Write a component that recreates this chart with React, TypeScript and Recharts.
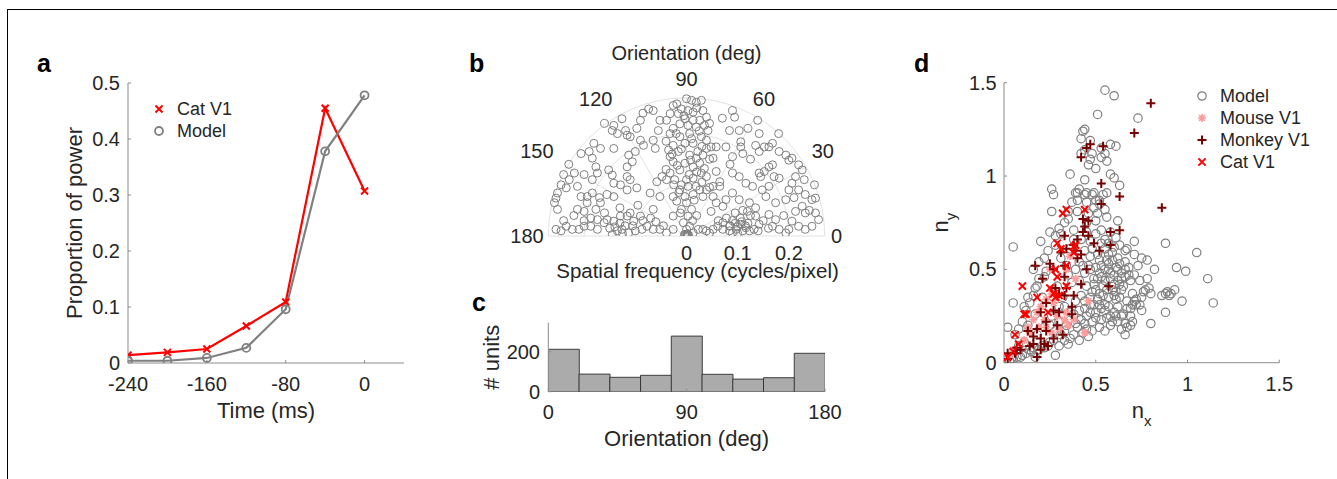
import React from 'react';
import {
  LineChart, Line, XAxis, YAxis, Legend, ScatterChart, Scatter,
  BarChart, Bar, ReferenceArea, ReferenceLine, ReferenceDot, Label,
} from 'recharts';

const FONT = "'Liberation Sans', Arial, Helvetica, sans-serif";
const TEXT = '#262626';
const AXIS = '#8c8c8c';
const GRID = '#e2e2e2';
const RED = '#ff0000';
const GRAY = '#808080';
const DARK_RED = '#780000';
const PINK = '#ff9c9c';

// ---------------- Panel a : proportion of power vs time
const timeMs = [-240, -200, -160, -120, -80, -40, 0];
const catV1Power = [0.014, 0.019, 0.025, 0.066, 0.109, 0.455, 0.307];
const modelPower = [0.004, 0.004, 0.009, 0.027, 0.096, 0.378, 0.478];
const timeTicks = [-240, -160, -80, 0];
const powerTicks = [0, 0.1, 0.2, 0.3, 0.4, 0.5];

// ---------------- Panel b : preferred spatial-frequency vectors (fx, fy) in cycles/pixel
const prefFreqXY: [number, number][] = [
  [0, 0.268], [0.01, 0.265], [0.019, 0.261], [0.029, 0.265], [-0.019, 0.258], [-0.026, 0.255], [-0.01, 0.248],
  [0.003, 0.245], [0.013, 0.242], [0.032, 0.245], [0.039, 0.232], [-0.016, 0.239], [-0.032, 0.239], [-0.039, 0.226],
  [-0.003, 0.229], [0.013, 0.226], [0.026, 0.226], [0.035, 0.216], [0.042, 0.206], [0.019, 0.213], [0.003, 0.216],
  [-0.013, 0.219], [-0.026, 0.21], [-0.032, 0.2], [-0.013, 0.194], [0.006, 0.2], [0.029, 0.194], [0.039, 0.187],
  [0.013, 0.181], [-0.003, 0.181], [-0.026, 0.177], [-0.035, 0.168], [-0.016, 0.165], [-0.032, 0.155], [0.006, 0.158],
  [0.032, 0.158], [0.019, 0.152], [0.039, 0.171], [0.048, 0.174], [-0.026, 0.145], [-0.003, 0.142], [0.026, 0.142],
  [0.013, 0.135], [-0.013, 0.129], [-0.032, 0.123], [-0.048, 0.116], [-0.058, 0.106], [-0.039, 0.11], [-0.023, 0.11],
  [0, 0.11], [0.013, 0.113], [0.029, 0.123], [0.039, 0.116], [0.019, 0.097], [0.003, 0.097], [-0.013, 0.09],
  [-0.026, 0.077], [-0.003, 0.077], [0.013, 0.081], [0.026, 0.09], [0, 0.065], [-0.019, 0.068], [-0.01, 0.052],
  [0.01, 0.052], [0.003, 0.039], [-0.006, 0.026], [0.006, 0.019], [0, 0.013],
  [0.02, 0.25], [-0.005, 0.235], [0.045, 0.22], [-0.02, 0.2], [0.025, 0.205], [0.01, 0.19], [-0.04, 0.185],
  [0.03, 0.175], [-0.01, 0.17], [0.022, 0.165], [-0.028, 0.16], [0.045, 0.15], [0.008, 0.148], [-0.018, 0.138],
  [0.035, 0.132], [-0.04, 0.13], [0.02, 0.125], [0.005, 0.12], [-0.025, 0.1], [0.03, 0.105], [0.045, 0.095],
  [-0.01, 0.1], [0.015, 0.07], [-0.015, 0.085], [0.02, 0.04], [-0.012, 0.045], [0.012, 0.03],
  [-0.074, 0.248], [-0.065, 0.245], [-0.09, 0.226], [-0.126, 0.229], [-0.142, 0.216], [-0.145, 0.206], [-0.135, 0.2],
  [-0.119, 0.206], [-0.116, 0.197], [-0.11, 0.194], [-0.097, 0.21], [-0.09, 0.187], [-0.084, 0.177], [-0.065, 0.187],
  [-0.052, 0.226], [-0.055, 0.206], [-0.061, 0.171], [-0.113, 0.158], [-0.106, 0.145], [-0.116, 0.135], [-0.142, 0.171],
  [-0.181, 0.181], [-0.19, 0.165], [-0.184, 0.152], [-0.206, 0.161], [-0.168, 0.171], [-0.219, 0.123], [-0.229, 0.11],
  [-0.235, 0.094], [-0.245, 0.1], [-0.252, 0.084], [-0.255, 0.074], [-0.213, 0.097], [-0.206, 0.077], [-0.194, 0.077],
  [-0.184, 0.084], [-0.177, 0.135], [-0.174, 0.123], [-0.184, 0.11], [-0.152, 0.129], [-0.145, 0.119], [-0.142, 0.103],
  [-0.129, 0.1], [-0.116, 0.116], [-0.11, 0.11], [-0.097, 0.094], [-0.116, 0.09], [-0.155, 0.081], [-0.142, 0.077],
  [-0.168, 0.065], [-0.177, 0.052], [-0.187, 0.035], [-0.174, 0.032], [-0.155, 0.032], [-0.142, 0.029], [-0.129, 0.039],
  [-0.116, 0.039], [-0.103, 0.029], [-0.09, 0.039], [-0.077, 0.019], [-0.065, 0.013], [-0.087, 0.013], [-0.1, 0.01],
  [-0.113, 0.006], [-0.126, 0.013], [-0.135, 0.01], [-0.145, 0.003], [-0.161, 0.026], [-0.174, 0.013], [-0.187, 0.019],
  [-0.2, 0.019], [-0.21, 0.013], [-0.223, 0.013], [-0.235, 0.019], [-0.245, 0.01], [-0.255, 0.013], [-0.252, 0.052],
  [-0.258, 0.065], [-0.213, 0.052], [-0.2, 0.048], [-0.194, 0.065], [-0.071, 0.084], [-0.065, 0.052], [-0.052, 0.013],
  [-0.039, 0.006], [-0.052, 0.077], [-0.026, 0.013], [-0.026, 0.039],
  [-0.12, 0.02], [-0.13, 0.025], [-0.14, 0.018], [-0.125, 0.005], [-0.105, 0.02], [-0.15, 0.015],
  [-0.11, 0.045], [-0.095, 0.06], [-0.13, 0.055], [-0.16, 0.045], [-0.085, 0.03], [-0.07, 0.035], [-0.06, 0.028],
  [-0.045, 0.02], [-0.17, 0.075], [-0.2, 0.03], [-0.22, 0.04], [-0.24, 0.03],
  [-0.16, 0.22], [-0.085, 0.24], [-0.2, 0.12], [-0.23, 0.14], [-0.24, 0.12], [-0.1, 0.165],
  [0.09, 0.245], [0.094, 0.232], [0.103, 0.206], [0.084, 0.206], [0.139, 0.226], [0.142, 0.2], [0.168, 0.181],
  [0.161, 0.174], [0.106, 0.184], [0.106, 0.174], [0.11, 0.161], [0.09, 0.155], [0.077, 0.174], [0.058, 0.174],
  [0.052, 0.152], [0.058, 0.126], [0.065, 0.106], [0.09, 0.123], [0.103, 0.116], [0.116, 0.103], [0.129, 0.097],
  [0.142, 0.123], [0.145, 0.116], [0.152, 0.126], [0.161, 0.135], [0.168, 0.139], [0.142, 0.165], [0.135, 0.177],
  [0.152, 0.174], [0.181, 0.165], [0.194, 0.158], [0.2, 0.148], [0.206, 0.152], [0.219, 0.139], [0.226, 0.129],
  [0.213, 0.116], [0.206, 0.103], [0.2, 0.09], [0.219, 0.09], [0.232, 0.081], [0.245, 0.071], [0.252, 0.074],
  [0.226, 0.058], [0.213, 0.048], [0.232, 0.045], [0.252, 0.045], [0.258, 0.032], [0.245, 0.019], [0.232, 0.013],
  [0.219, 0.019], [0.206, 0.029], [0.2, 0.013], [0.194, 0.006], [0.181, 0.013], [0.168, 0.019], [0.174, 0.032],
  [0.161, 0.042], [0.174, 0.065], [0.155, 0.077], [0.148, 0.09], [0.161, 0.097], [0.171, 0.116], [0.181, 0.113],
  [0.194, 0.071], [0.123, 0.065], [0.119, 0.048], [0.135, 0.039], [0.142, 0.023], [0.132, 0.013], [0.116, 0.016],
  [0.106, 0.023], [0.097, 0.013], [0.09, 0.006], [0.084, 0.019], [0.071, 0.026], [0.061, 0.019], [0.052, 0.013],
  [0.045, 0.006], [0.039, 0.01], [0.032, 0.013], [0.023, 0.013], [0.013, 0.006], [0.071, 0.013], [0.084, 0.01],
  [0.11, 0.01], [0.123, 0.01], [0.071, 0.058], [0.077, 0.071], [0.058, 0.065], [0.048, 0.048], [0.09, 0.084],
  [0.103, 0.071], [0.065, 0.097], [0.052, 0.097], [0.039, 0.09], [0.032, 0.077], [0.052, 0.077],
  [0.085, 0.02], [0.095, 0.025], [0.1, 0.018], [0.108, 0.028], [0.115, 0.02], [0.09, 0.03], [0.12, 0.025], [0.1, 0.005],
  [0.105, 0.035], [0.125, 0.04], [0.14, 0.01], [0.15, 0.03], [0.16, 0.015], [0.095, 0.045], [0.11, 0.05],
  [0.078, 0.035], [0.062, 0.03], [0.135, 0.055],
  [0.07, 0.23], [0.12, 0.21], [0.18, 0.2], [0.23, 0.11], [0.25, 0.1], [0.24, 0.05], [0.19, 0.04], [0.21, 0.075],
  [0.125, 0.15], [0.085, 0.14],
  [0, 0], [0.002, 0.001], [-0.002, 0.001], [0.003, 0.003], [-0.003, 0.002], [0.001, 0.004], [0.004, 0.001], [-0.004, 0.003],
];
const R_MAX = 0.27;
const ringRadii = [0.1, 0.2, R_MAX];
const spokeAngles = [30, 60, 90, 120, 150];
const rTicks = [0, 0.1, 0.2];
const thetaTickText = ['0', '30', '60', '90', '120', '150', '180'];
const thetaLabelAngle = [0, 32, 60.5, 90, 123.5, 150.4, 180];
const thetaLabelRadius = [0.293, 0.314, 0.307, 0.307, 0.321, 0.336, 0.3115];

// ---------------- Panel c : orientation histogram
const binCenters = [10, 30, 50, 70, 90, 110, 130, 150, 170];
const unitCounts = [212, 88, 72, 82, 278, 87, 63, 70, 192];
const orientationTicks = [0, 90, 180];
const unitTicks = [0, 200];

// ---------------- Panel d : nx / ny
const modelNxNy: [number, number][] = [
  [0.55, 1.46], [0.6, 1.43], [0.51, 1.33], [0.73, 1.31], [0.44, 1.25], [0.42, 1.2], [0.47, 1.19], [0.58, 1.17],
  [0.61, 1.16], [0.53, 1.15], [0.48, 1.12], [0.36, 1.01], [0.58, 1.01], [0.6, 0.99], [0.63, 0.95], [0.44, 0.98],
  [0.39, 0.91], [0.26, 0.93], [0.27, 0.9], [0.4, 0.87], [0.45, 0.91], [0.49, 0.91], [0.56, 0.91], [0.52, 0.87],
  [0.55, 0.82], [0.56, 0.78], [0.62, 0.76], [0.26, 0.81], [0.35, 0.81], [0.25, 0.7], [0.2, 0.65], [0.05, 0.62],
  [0.71, 0.65], [0.88, 0.64], [1.05, 0.59], [0.78, 0.55], [0.82, 0.5], [0.94, 0.51], [0.99, 0.49], [1.11, 0.45],
  [0.78, 0.45], [0.79, 0.4], [0.88, 0.37], [0.91, 0.37], [0.93, 0.39], [0.97, 0.33], [1.14, 0.32], [0.88, 0.27],
  [0.8, 0.21], [0.71, 0.33], [0.74, 0.31], [0.66, 0.15], [0.67, 0.19], [0.64, 0.25], [0.69, 0.29], [0.52, 0.19],
  [0.05, 0.32], [0.02, 0.19], [0.16, 0.5], [0.17, 0.4],
  [0.43, 1.24], [0.44, 1.14], [0.47, 1.09], [0.46, 1.06], [0.5, 1.04], [0.53, 1.1], [0.55, 1.12], [0.56, 1.08],
  [0.42, 1.12], [0.4, 0.91], [0.41, 0.93], [0.44, 0.9], [0.48, 0.9], [0.45, 0.86], [0.5, 0.87], [0.54, 0.9],
  [0.52, 0.85], [0.49, 0.83], [0.51, 0.8], [0.46, 0.8], [0.4, 0.81], [0.37, 0.86],
  [0.28, 0.68], [0.31, 0.69], [0.38, 0.66], [0.5, 0.69], [0.53, 0.71], [0.61, 0.67], [0.67, 0.61], [0.71, 0.58],
  [0.75, 0.56], [0.44, 0.6], [0.48, 0.61], [0.51, 0.58], [0.55, 0.61], [0.59, 0.59], [0.62, 0.56], [0.66, 0.54],
  [0.41, 0.54], [0.46, 0.52], [0.5, 0.51], [0.53, 0.52], [0.57, 0.5], [0.61, 0.51], [0.64, 0.48], [0.68, 0.51],
  [0.71, 0.47], [0.74, 0.44], [0.69, 0.44], [0.62, 0.44], [0.58, 0.45], [0.53, 0.46], [0.49, 0.45], [0.44, 0.48],
  [0.41, 0.44], [0.45, 0.41], [0.5, 0.39], [0.54, 0.41], [0.59, 0.39], [0.64, 0.39], [0.7, 0.37], [0.75, 0.35],
  [0.72, 0.31], [0.67, 0.33], [0.61, 0.34], [0.57, 0.35], [0.51, 0.34], [0.47, 0.35], [0.42, 0.36], [0.39, 0.33],
  [0.44, 0.29], [0.5, 0.27], [0.55, 0.28], [0.6, 0.27], [0.65, 0.26], [0.7, 0.22], [0.64, 0.18], [0.59, 0.22],
  [0.53, 0.23], [0.48, 0.22], [0.42, 0.23], [0.38, 0.26], [0.34, 0.2], [0.4, 0.19], [0.45, 0.18], [0.31, 0.15],
  [0.36, 0.13], [0.25, 0.11], [0.21, 0.09], [0.15, 0.06], [0.1, 0.04], [0.04, 0.02], [0.01, 0.01], [0.06, 0.15],
  [0.17, 0.26], [0.19, 0.54], [0.22, 0.56], [0.23, 0.49], [0.18, 0.41], [0.13, 0.35], [0.11, 0.3], [0.13, 0.2],
  [0.21, 0.35], [0.27, 0.35], [0.31, 0.56], [0.34, 0.52], [0.36, 0.61], [0.39, 0.5], [0.29, 0.41], [0.32, 0.35],
  [0.26, 0.25], [0.3, 0.22], [0.22, 0.19], [0.18, 0.15], [0.11, 0.11], [0.08, 0.09], [0.22, 0.08], [0.3, 0.09],
  [0.35, 0.1], [0.41, 0.12], [0.46, 0.14], [0.28, 0.04], [0.17, 0.03], [0.75, 0.28], [0.77, 0.39], [0.73, 0.52],
  [0.76, 0.38], [0.8, 0.37], [0.86, 0.36], [0.89, 0.38], [0.9, 0.36], [0.72, 0.34], [0.7, 0.31], [0.69, 0.25], [0.69, 0.2],
  [0.03, 0.01], [0.05, 0.02], [0.07, 0.03], [0.09, 0.03], [0.12, 0.05], [0.14, 0.07], [0.16, 0.08], [0.19, 0.07],
  [0.24, 0.09], [0.27, 0.12], [0.33, 0.12], [0.38, 0.15], [0.43, 0.16], [0.48, 0.17], [0.55, 0.17], [0.58, 0.2],
  [0.62, 0.22], [0.66, 0.21], [0.67, 0.29], [0.08, 0.18], [0.1, 0.22], [0.12, 0.28], [0.14, 0.32], [0.16, 0.36],
  [0.19, 0.45], [0.22, 0.46], [0.24, 0.6], [0.28, 0.63], [0.3, 0.72], [0.33, 0.75], [0.35, 0.77], [0.38, 0.71],
  [0.45, 0.75], [0.5, 0.76], [0.53, 0.64], [0.57, 0.64], [0.58, 0.7], [0.63, 0.63], [0.66, 0.6], [0.56, 0.55],
  [0.6, 0.47], [0.63, 0.42], [0.66, 0.46], [0.55, 0.31], [0.62, 0.3], [0.47, 0.27], [0.52, 0.31], [0.58, 0.25],
  [0.52, 0.48], [0.55, 0.44], [0.57, 0.53], [0.6, 0.42], [0.62, 0.5], [0.64, 0.45], [0.58, 0.48], [0.54, 0.36],
  [0.49, 0.42], [0.47, 0.31], [0.6, 0.36], [0.63, 0.35],
  [0.47, 0.5], [0.51, 0.45], [0.55, 0.5], [0.59, 0.55], [0.63, 0.53], [0.66, 0.5], [0.68, 0.47], [0.65, 0.41],
  [0.61, 0.38], [0.56, 0.39], [0.52, 0.37], [0.48, 0.38], [0.44, 0.33], [0.49, 0.31], [0.53, 0.29], [0.57, 0.3],
  [0.61, 0.25], [0.56, 0.24], [0.5, 0.24], [0.45, 0.25], [0.41, 0.28], [0.36, 0.27], [0.33, 0.3], [0.37, 0.43],
  [0.43, 0.52], [0.47, 0.57], [0.52, 0.55], [0.57, 0.58], [0.47, 0.65], [0.42, 0.66], [0.45, 0.7], [0.55, 0.66],
  [0.6, 0.62], [0.35, 0.47], [0.3, 0.3], [0.25, 0.2], [0.28, 0.17], [0.33, 0.17], [0.39, 0.21], [0.44, 0.21],
];
const mouseNxNy: [number, number][] = [
  [0.46, 0.33], [0.44, 0.16], [0.39, 0.45], [0.38, 0.23], [0.35, 0.2], [0.33, 0.23], [0.29, 0.25], [0.25, 0.5],
  [0.26, 0.37], [0.23, 0.34], [0.2, 0.3], [0.18, 0.27], [0.22, 0.23], [0.16, 0.23], [0.23, 0.19], [0.26, 0.16],
  [0.3, 0.18], [0.19, 0.19], [0.14, 0.16], [0.11, 0.12], [0.05, 0.07], [0.03, 0.04], [0.34, 0.5], [0.36, 0.57],
  [0.13, 0.19], [0.27, 0.32], [0.34, 0.27],
];
const monkeyNxNy: [number, number][] = [
  [0.8, 1.39], [0.71, 1.23], [0.47, 1.17], [0.45, 1.15], [0.54, 1.16], [0.42, 1.1], [0.53, 0.96], [0.53, 0.85],
  [0.63, 0.89], [0.86, 0.83], [0.43, 0.77], [0.46, 0.76], [0.44, 0.73], [0.58, 0.7], [0.63, 0.71], [0.58, 0.63],
  [0.49, 0.64], [0.52, 0.6], [0.33, 0.68], [0.4, 0.66], [0.38, 0.63], [0.39, 0.6], [0.4, 0.56], [0.42, 0.58],
  [0.45, 0.5], [0.31, 0.59], [0.25, 0.53], [0.17, 0.52], [0.21, 0.45], [0.27, 0.5], [0.33, 0.52], [0.33, 0.46],
  [0.28, 0.4], [0.34, 0.4], [0.33, 0.36], [0.38, 0.36], [0.37, 0.3], [0.37, 0.26], [0.42, 0.42], [0.57, 0.41],
  [0.3, 0.27], [0.29, 0.2], [0.23, 0.22], [0.18, 0.18], [0.2, 0.27], [0.32, 0.15], [0.27, 0.13], [0.2, 0.13],
  [0.16, 0.1], [0.22, 0.1], [0.18, 0.03], [0.16, 0.14], [0.13, 0.17], [0.23, 0.17], [0.24, 0.09], [0.2, 0.07],
  [0.14, 0.09], [0.09, 0.07], [0.06, 0.05], [0.02, 0.05], [0.02, 0.02], [0.07, 0.08], [0.27, 0.28], [0.23, 0.32],
  [0.3, 0.37], [0.34, 0.61], [0.43, 0.7], [0.46, 0.68],
];
const catNxNy: [number, number][] = [
  [0.32, 0.8], [0.34, 0.82], [0.44, 0.82], [0.29, 0.64], [0.31, 0.61], [0.38, 0.62], [0.39, 0.63], [0.38, 0.59],
  [0.1, 0.41], [0.18, 0.35], [0.12, 0.26], [0.11, 0.26], [0.06, 0.15], [0.08, 0.1], [0.28, 0.5], [0.29, 0.46],
  [0.34, 0.52], [0.25, 0.4], [0.27, 0.37], [0.28, 0.35], [0.24, 0.27], [0.34, 0.41], [0.3, 0.36], [0.02, 0.03], [0.05, 0.06],
];
const nTicks = [0, 0.5, 1, 1.5];

// ---------------- marker helpers
const xPath = (cx: number, cy: number, s: number) =>
  `M${cx - s},${cy - s}L${cx + s},${cy + s}M${cx - s},${cy + s}L${cx + s},${cy - s}`;
const plusPath = (cx: number, cy: number, s: number) =>
  `M${cx - s},${cy}L${cx + s},${cy}M${cx},${cy - s}L${cx},${cy + s}`;
const starPath = (cx: number, cy: number, s: number) => plusPath(cx, cy, s) + xPath(cx, cy, s * 0.72);

type Mk = (cx: number, cy: number) => React.ReactElement;
const mkCatA: Mk = (cx, cy) => <path d={xPath(cx, cy, 3.5)} stroke={RED} strokeWidth={2} fill="none" />;
const mkModelA: Mk = (cx, cy) => <circle cx={cx} cy={cy} r={4} stroke={GRAY} strokeWidth={1.8} fill="none" />;
const mkModelB: Mk = (cx, cy) => <circle cx={cx} cy={cy} r={4} stroke={GRAY} strokeWidth={1} fill="none" />;
const mkModelD: Mk = (cx, cy) => <circle cx={cx} cy={cy} r={4.2} stroke={GRAY} strokeWidth={1.2} fill="none" />;
const mkMouse: Mk = (cx, cy) => <path d={starPath(cx, cy, 4)} stroke={PINK} strokeWidth={1.7} fill="none" />;
const mkMonkey: Mk = (cx, cy) => <path d={plusPath(cx, cy, 4.5)} stroke={DARK_RED} strokeWidth={2} fill="none" />;
const mkCatD: Mk = (cx, cy) => <path d={xPath(cx, cy, 3.6)} stroke={RED} strokeWidth={2} fill="none" />;

const shapeOf = (mk: Mk) => (p: any) => <g>{mk(p.cx, p.cy)}</g>;

// ---------------- text helpers
const hTitle = (text: React.ReactNode, dy: number, dx = 0, size = 22) => (props: any) => {
  const vb = props.viewBox || { x: 0, y: 0, width: 0, height: 0 };
  return (
    <text x={vb.x + vb.width / 2 + dx} y={vb.y + dy} textAnchor="middle" fontSize={size} fill={TEXT}>
      {text}
    </text>
  );
};
const vTitle = (text: React.ReactNode, dx: number, size = 22) => (props: any) => {
  const vb = props.viewBox || { x: 0, y: 0, width: 0, height: 0 };
  const x = vb.x + dx;
  const y = vb.y + vb.height / 2;
  return (
    <text x={x} y={y} transform={`rotate(-90 ${x} ${y})`} textAnchor="middle" fontSize={size} fill={TEXT}>
      {text}
    </text>
  );
};

const makeLegend = (order: string[], icons: Record<string, Mk>) => (props: any) => {
  const names: string[] = (props.payload || []).map((p: any) => p.value);
  const list = order.filter((n) => names.length === 0 || names.includes(n));
  return (
    <div style={{ fontFamily: FONT }}>
      {list.map((n) => (
        <div key={n} style={{ display: 'flex', alignItems: 'center', height: 22 }}>
          <svg width={20} height={22} style={{ display: 'block', flex: 'none' }}>{icons[n](10, 11)}</svg>
          <span style={{ marginLeft: 8, fontSize: 18, lineHeight: '22px', color: TEXT, whiteSpace: 'nowrap' }}>{n}</span>
        </div>
      ))}
    </div>
  );
};

const tickStyle = { fill: TEXT, fontSize: 20 };

// ---------------- panels
function PanelA() {
  const data = timeMs.map((t, i) => ({ t, cat: catV1Power[i], model: modelPower[i] }));
  return (
    <div style={{ position: 'absolute', left: 0, top: 0 }}>
      <LineChart width={420} height={430} data={data} margin={{ top: 83, right: 16, bottom: 37, left: 68 }}>
        <XAxis dataKey="t" type="number" domain={[-240, 40]} ticks={timeTicks} allowDataOverflow height={30}
          tickSize={-3} tickMargin={17} stroke={AXIS} tick={tickStyle} interval={0}>
          <Label content={hTitle('Time (ms)', 55)} />
        </XAxis>
        <YAxis type="number" domain={[0, 0.5]} ticks={powerTicks} allowDataOverflow width={60}
          tickSize={-3} tickMargin={11} stroke={AXIS} tick={tickStyle} interval={0}>
          <Label content={vTitle('Proportion of power', 14)} />
        </YAxis>
        <Line dataKey="cat" name="Cat V1" stroke={RED} strokeWidth={2.2} isAnimationActive={false}
          dot={(p: any) => <g key={`c${p.index}`}>{mkCatA(p.cx, p.cy)}</g>} activeDot={false} />
        <Line dataKey="model" name="Model" stroke={GRAY} strokeWidth={2.2} isAnimationActive={false}
          dot={(p: any) => <g key={`m${p.index}`}>{mkModelA(p.cx, p.cy)}</g>} activeDot={false} />
        <Legend layout="vertical" align="center" verticalAlign="middle"
          wrapperStyle={{ left: 149, top: 98, width: 120, height: 44 }}
          content={makeLegend(['Cat V1', 'Model'], { 'Cat V1': mkCatA, Model: mkModelA })} />
      </LineChart>
    </div>
  );
}

const arcShape = (p: any) => {
  const x = Math.min(p.x, p.x + p.width);
  const w = Math.abs(p.width);
  const top = Math.min(p.y, p.y + p.height);
  const h = Math.abs(p.height);
  return (
    <path d={`M${x},${top + h}A${w / 2},${h} 0 0 1 ${x + w},${top + h}`} fill="none" stroke={GRID} strokeWidth={1} />
  );
};

function PanelB() {
  const data = prefFreqXY.map(([x, y]) => ({ x, y }));
  const rad = Math.PI / 180;
  return (
    <div style={{ position: 'absolute', left: 480, top: 40 }}>
      <ScatterChart width={420} height={260} margin={{ top: 6.56, right: 29.2, bottom: 14, left: 22.2 }}>
        <XAxis dataKey="x" type="number" domain={[-0.36, 0.36]} allowDataOverflow ticks={rTicks} interval={0}
          axisLine={false} tickLine={false} tickSize={0} tickMargin={10} height={50} tick={tickStyle}>
          <Label content={hTitle('Spatial frequency (cycles/pixel)', 41.5, 11, 20.5)} />
        </XAxis>
        <YAxis dataKey="y" type="number" domain={[0, 0.37]} allowDataOverflow hide />
        {ringRadii.map((r) => (
          <ReferenceArea key={`ring${r}`} x1={-r} x2={r} y1={0} y2={r} shape={arcShape} />
        ))}
        <ReferenceLine segment={[{ x: -R_MAX, y: 0 }, { x: R_MAX, y: 0 }]} stroke={GRID} strokeWidth={1} />
        {spokeAngles.map((a) => (
          <ReferenceLine key={`sp${a}`}
            segment={[{ x: 0, y: 0 }, { x: R_MAX * Math.cos(a * rad), y: R_MAX * Math.sin(a * rad) }]}
            stroke={GRID} strokeWidth={1} />
        ))}
        {thetaTickText.map((t, i) => (
          <ReferenceDot key={`tl${t}`} x={thetaLabelRadius[i] * Math.cos(thetaLabelAngle[i] * rad)}
            y={Math.max(0, thetaLabelRadius[i] * Math.sin(thetaLabelAngle[i] * rad))}
            r={0} fill="none" stroke="none"
            label={{ value: t, position: 'center', fill: TEXT, fontSize: 20 }} />
        ))}
        <ReferenceDot x={0} y={0.357} r={0} fill="none" stroke="none"
          label={{ value: 'Orientation (deg)', position: 'center', fill: TEXT, fontSize: 20 }} />
        <Scatter name="Model" data={data} shape={shapeOf(mkModelB)} isAnimationActive={false} />
      </ScatterChart>
    </div>
  );
}

function PanelC() {
  const data = binCenters.map((bin, i) => ({ bin, count: unitCounts[i] }));
  return (
    <div style={{ position: 'absolute', left: 440, top: 300 }}>
      <BarChart width={420} height={170} data={data} barCategoryGap={0} barGap={0}
        margin={{ top: 22.7, right: 35, bottom: 48.3, left: 58.3 }}>
        <XAxis dataKey="bin" type="number" domain={[0, 180]} ticks={orientationTicks} allowDataOverflow interval={0}
          height={30} axisLine={false} tickSize={-3} tickMargin={16} stroke={AXIS} tick={tickStyle}>
          <Label content={hTitle('Orientation (deg)', 54)} />
        </XAxis>
        <YAxis type="number" domain={[0, 345]} ticks={unitTicks} allowDataOverflow width={50} interval={0}
          tickSize={-3} tickMargin={11.3} stroke={AXIS} tick={tickStyle}>
          <Label content={vTitle('# units', 1)} />
        </YAxis>
        <Bar dataKey="count" fill="#ababab" stroke="#2e2e2e" strokeWidth={0.9} isAnimationActive={false} />
      </BarChart>
    </div>
  );
}

function PanelD() {
  const toPts = (arr: [number, number][]) => arr.map(([x, y]) => ({ x, y }));
  const nx = (
    <>
      n<tspan dy={8} fontSize={15}>x</tspan>
    </>
  );
  const ny = (
    <>
      n<tspan dy={8} fontSize={15}>y</tspan>
    </>
  );
  return (
    <div style={{ position: 'absolute', left: 900, top: 40 }}>
      <ScatterChart width={420} height={420} margin={{ top: 42.7, right: 40.7, bottom: 57.3, left: 54 }}>
        <XAxis dataKey="x" type="number" domain={[0, 1.5]} ticks={nTicks} allowDataOverflow interval={0} height={40}
          tickSize={-3} tickMargin={17.3} stroke={AXIS} tick={tickStyle}>
          <Label content={hTitle(nx, 55.3)} />
        </XAxis>
        <YAxis dataKey="y" type="number" domain={[0, 1.5]} ticks={nTicks} allowDataOverflow interval={0} width={50}
          tickSize={-3} tickMargin={10.3} stroke={AXIS} tick={tickStyle}>
          <Label content={vTitle(ny, -6)} />
        </YAxis>
        <Scatter name="Model" data={toPts(modelNxNy)} shape={shapeOf(mkModelD)} isAnimationActive={false} />
        <Scatter name="Mouse V1" data={toPts(mouseNxNy)} shape={shapeOf(mkMouse)} isAnimationActive={false} />
        <Scatter name="Monkey V1" data={toPts(monkeyNxNy)} shape={shapeOf(mkMonkey)} isAnimationActive={false} />
        <Scatter name="Cat V1" data={toPts(catNxNy)} shape={shapeOf(mkCatD)} isAnimationActive={false} />
        <Legend layout="vertical" align="center" verticalAlign="middle"
          wrapperStyle={{ left: 292, top: 45, width: 120, height: 90 }}
          content={makeLegend(['Model', 'Mouse V1', 'Monkey V1', 'Cat V1'], {
            Model: mkModelD, 'Mouse V1': mkMouse, 'Monkey V1': mkMonkey, 'Cat V1': mkCatD,
          })} />
      </ScatterChart>
    </div>
  );
}

export default function App() {
  return (
    <div style={{ position: 'relative', width: 1337, height: 479, overflow: 'hidden', background: '#fff', fontFamily: FONT }}>
      <style>{'body{margin:0}'}</style>
      <div style={{ position: 'absolute', left: 7, top: 9, right: -2, bottom: -2, borderTop: '1px solid #000', borderLeft: '1px solid #000' }} />
      <PanelA />
      <PanelB />
      <PanelC />
      <PanelD />
      <svg width={1337} height={479} style={{ position: 'absolute', left: 0, top: 0, pointerEvents: 'none' }}>
        <g fontWeight="bold" fontSize={25} fill="#000">
          <text x={37} y={72}>a</text>
          <text x={469} y={72}>b</text>
          <text x={472} y={311}>c</text>
          <text x={914} y={72}>d</text>
        </g>
      </svg>
    </div>
  );
}
